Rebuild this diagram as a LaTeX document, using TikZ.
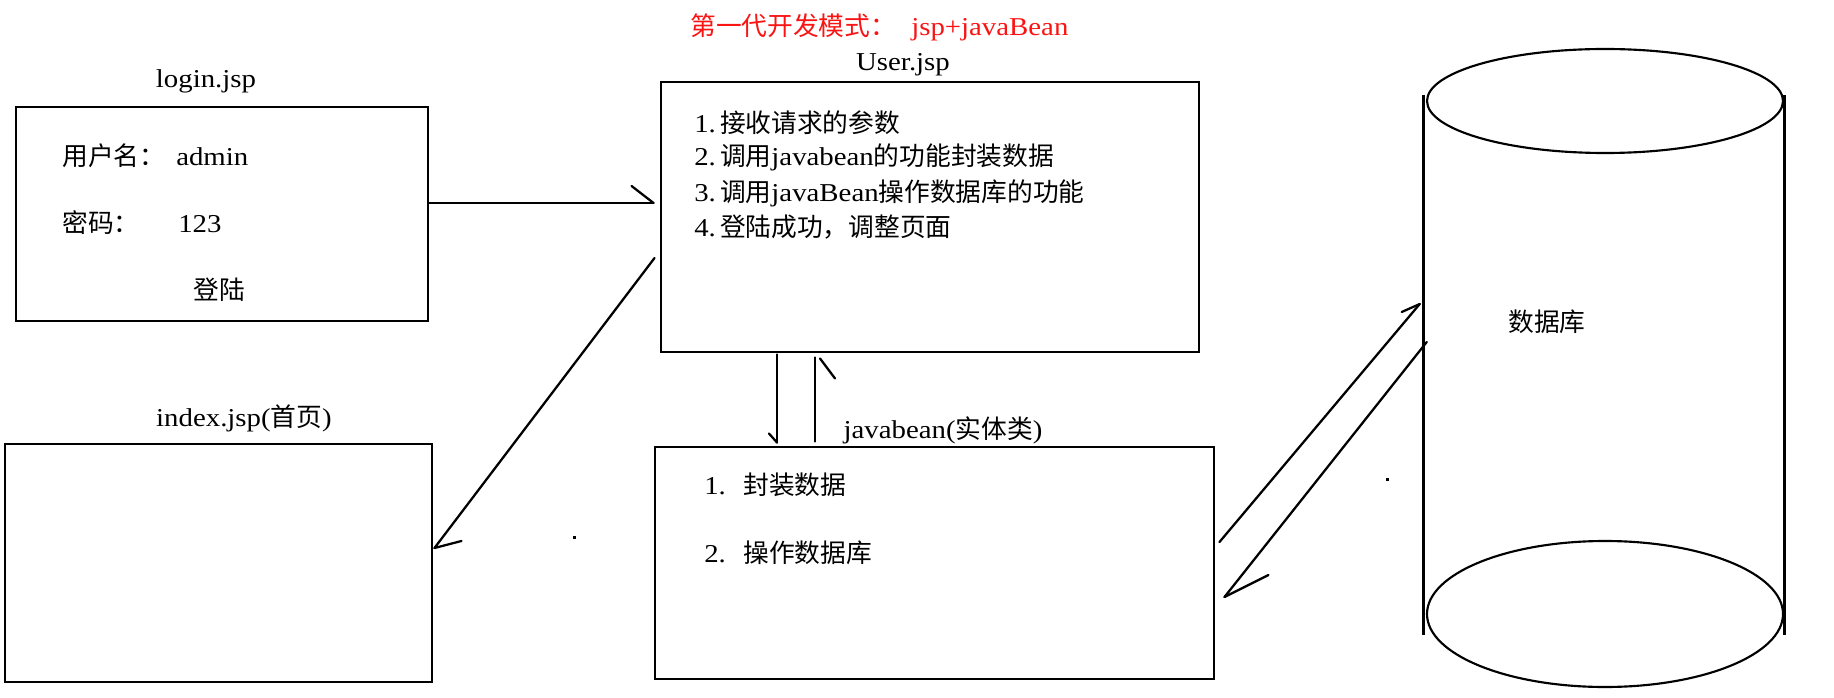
\documentclass[tikz,border=0pt]{standalone}
\usepackage{fontspec}
\setmainfont{Liberation Serif}[FakeStretch=1.12]
\newfontfamily\cjk{Noto Sans CJK SC}
\usetikzlibrary{calc,fit}
\definecolor{titlered}{RGB}{250,20,20}
\tikzset{
  box/.style={draw, line width=2.2pt, inner sep=0pt},
  conn/.style={line width=1.7pt, line cap=round},
  txt/.style={inner sep=0pt, font=\fontsize{19.3pt}{23pt}\selectfont},
  cylside/.style={line width=2.2pt},
  cylrim/.style={line width=1.6pt},
  speck/.style={fill=black},
}
\begin{document}
\begin{tikzpicture}[x=0.75pt,y=-0.75pt]
\useasboundingbox (0,0) rectangle (1834,698);
\fill[white] (0,0) rectangle (1834,698);

% boxes
\node[box, fit={(16,107)(428,321)}] (login) {};
\node[box, fit={(661,82)(1199,352)}] (user) {};
\node[box, fit={(5,444)(432,682)}] (index) {};
\node[box, fit={(655,447)(1214,679)}] (bean) {};
\node[inner sep=0pt, fit={(1424,49)(1784,688)}] (db) {};

% database cylinder
\draw[cylside] (db.north west |- 0,95) -- (db.north west |- 0,635);
\draw[cylside] (db.north east |- 0,95) -- (db.north east |- 0,635);
\draw[cylrim] (1605,101) ellipse [x radius=133.5pt, y radius=39pt];
\draw[cylrim] (1605,614) ellipse [x radius=133.5pt, y radius=54.75pt];

% texts
\node[txt, text=titlered, anchor=west] (title) at (690,27) {\makebox[165.75pt][l]{\cjk 第一代开发模式：}jsp+javaBean};
\node[txt] (loginlbl) at (206,81) {login.jsp};
\node[txt, anchor=west] (uname) at (62,156) {\makebox[85.5pt][l]{\cjk 用户名：}admin};
\node[txt, anchor=west] (pwd) at (62,223) {\makebox[87pt][l]{\cjk 密码：}123};
\node[txt] (loginbtn) at (219,290) {\cjk 登陆};

\node[txt] (userlbl) at (903,65) {User.jsp};
\node[txt, anchor=west] (u1) at (694,123) {\makebox[19.3pt][l]{1.}{\cjk 接收请求的参数}};
\node[txt, anchor=west] (u2) at (694,157) {\makebox[19.3pt][l]{2.}{\cjk 调用}javabean{\cjk 的功能封装数据}};
\node[txt, anchor=west] (u3) at (694,193) {\makebox[19.3pt][l]{3.}{\cjk 调用}javaBean{\cjk 操作数据库的功能}};
\node[txt, anchor=west] (u4) at (694,227) {\makebox[19.3pt][l]{4.}{\cjk 登陆成功，调整页面}};

\node[txt] (indexlbl) at (244,418) {index.jsp({\cjk 首页})};

\node[txt] (beanlbl) at (943,430) {javabean({\cjk 实体类})};
\node[txt, anchor=west] (b1) at (704,485) {\makebox[29.25pt][l]{1.}{\cjk 封装数据}};
\node[txt, anchor=west] (b2) at (704,553) {\makebox[29.25pt][l]{2.}{\cjk 操作数据库}};

\node[txt] (dblbl) at (1547,322) {\cjk 数据库};

% connectors
% login -> user
\draw[conn] ($(login.east)+(0,-11)$) -- ($(user.west)+(-6,-14)$) coordinate (t1);
\draw[conn] (t1) -- ++(-22,-17);
% user -> index
\draw[conn] ($(user.west)+(-5,41)$) -- ($(index.east)+(1,-15)$) coordinate (t2);
\draw[conn] (t2) -- ++(27,-7);
% user -> bean (down)
\draw[conn] ($(user.south)+(-153,1)$) -- ($(bean.north)+(-157.5,-3)$) coordinate (t3);
\draw[conn] (t3) -- ++(-8,-9);
% bean -> user (up)
\draw[conn] ($(bean.north)+(-119.5,-4)$) -- ($(user.south)+(-115,4)$) coordinate (t4);
\draw[conn] (t4) ++(5,1) -- ++(15,20);
% bean -> db
\draw[conn] ($(bean.east)+(4,-21)$) -- ($(db.west)+(-4,-64.5)$) coordinate (t5);
\draw[conn] (t5) -- ++(-18,8);
% db -> bean
\draw[conn] ($(db.west)+(3,-26.5)$) -- ($(bean.east)+(9,34)$) coordinate (t6);
\draw[conn] (t6) -- ++(44,-22);

% specks
\fill[speck] (573,536) rectangle (576,539);
\fill[speck] (1386,478) rectangle (1389,481);
\end{tikzpicture}
\end{document}
